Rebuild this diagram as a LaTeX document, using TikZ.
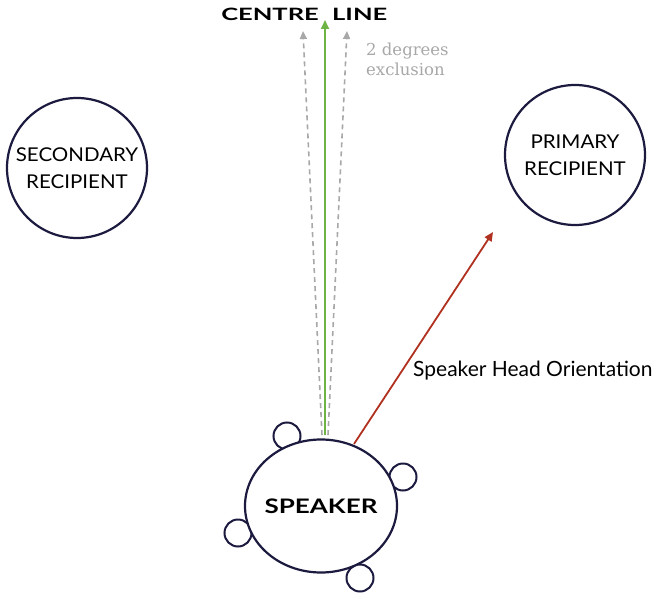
\documentclass[tikz,border=0pt]{standalone}
\usepackage{fontspec}
\usepackage{graphicx}
\setsansfont{Lato}
\newfontfamily\degfont{DejaVu Serif}
\usetikzlibrary{shapes.geometric,arrows.meta}
\definecolor{navy}{HTML}{1C1B3F}
\definecolor{cgreen}{HTML}{6DB444}
\definecolor{cred}{HTML}{B0311F}
\definecolor{cgray}{HTML}{A8A8A8}
\newcommand{\wide}[2]{\scalebox{#1}[1]{#2}}
\begin{document}
\begin{tikzpicture}[x=1pt,y=-1pt,
  person/.style={circle,draw=navy,line width=2.2pt,minimum size=140pt,inner sep=0pt,align=center,font=\sffamily\fontsize{19}{27}\selectfont},
  ear/.style={circle,draw=navy,line width=2pt,minimum size=27pt,inner sep=0pt},
  grayarrow/.style={draw=cgray,line width=1.6pt,dash pattern=on 5pt off 4pt,-{Triangle[length=8pt,width=7pt]}},
  heavy/.style={font=\sffamily\bfseries\fontsize{17}{20}\selectfont},
]
\useasboundingbox (0,0) rectangle (658,599);
\node[person] (sec) at (77,168) {\wide{1.08}{SECONDARY}\\\wide{1.08}{RECIPIENT}};
\node[person] (pri) at (575,155) {\wide{1.08}{PRIMARY}\\\wide{1.08}{RECIPIENT}};
\node[ear] (e1) at (287,436) {};
\node[ear] (e2) at (403,477) {};
\node[ear] (e3) at (238,533) {};
\node[ear] (e4) at (360,578) {};
\node[ellipse,draw=navy,fill=white,line width=2.2pt,minimum width=152pt,minimum height=133pt,inner sep=0pt] (spk) at (321,506) {};
\node[font=\sffamily\bfseries\fontsize{20}{24}\selectfont] (spklabel) at (spk.center) {\wide{1.3}{SPEAKER}};
\node[heavy,anchor=east,inner sep=0pt] (cl1) at (319,14) {\wide{1.5}{CENTRE}};
\node[heavy,anchor=west,inner sep=0pt] (cl2) at (332,14) {\wide{1.5}{LINE}};
\coordinate (base) at (325,435);
\coordinate (gbl) at (322,435);
\coordinate (gbr) at (328,435);
\coordinate (gl) at (303,31);
\coordinate (gr) at (347,31);
\coordinate (gc) at (325,20);
\coordinate (head) at (493,232);
\coordinate (hstart) at (354,444);
\draw[grayarrow] (gbl) -- (gl);
\draw[grayarrow] (gbr) -- (gr);
\draw[cgreen,line width=1.8pt,-{Triangle[length=9pt,width=8pt]}] (base) -- (gc);
\node[anchor=north west,text=cgray,align=left,font=\degfont\fontsize{16.5}{19.5}\selectfont,inner sep=0pt] (deg) at (366,43) {2 degrees\\exclusion};
\draw[cred,line width=1.8pt,-{Triangle[length=9pt,width=8pt]}] (hstart) -- (head);
\node[anchor=west,font=\sffamily\fontsize{21}{24}\selectfont,inner sep=0pt] (sho) at (413,371) {Speaker Head Orientation};
\end{tikzpicture}
\end{document}
